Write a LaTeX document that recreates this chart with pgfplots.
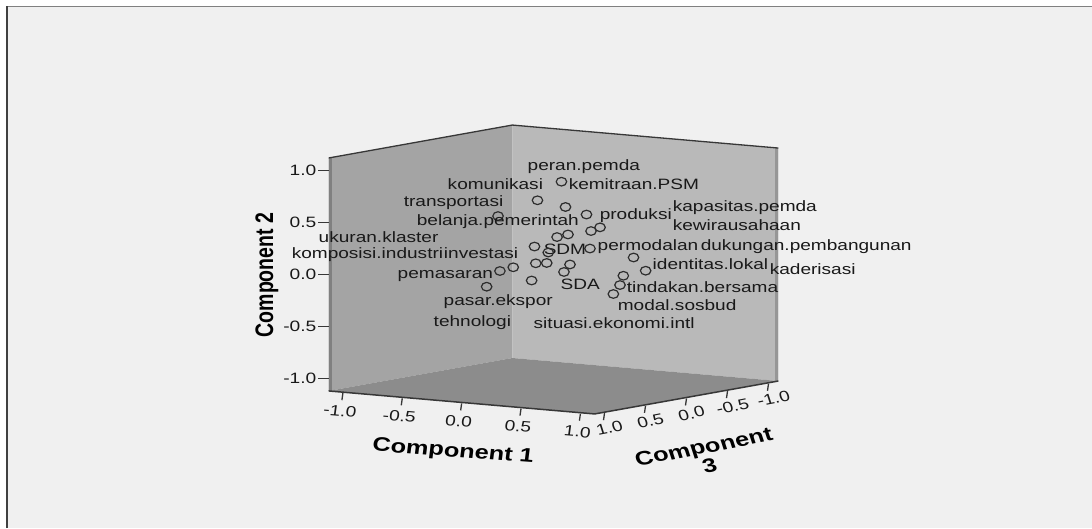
\documentclass[border=0pt]{standalone}
\usepackage{pgfplots}
\pgfplotsset{compat=1.18}
\usepackage{pgfplotstable}
\usepackage{fontspec}
\setmainfont{Liberation Sans}
\definecolor{bgc}{RGB}{240,240,240}
\definecolor{lwall}{RGB}{164,164,164}
\definecolor{rwall}{RGB}{185,185,185}
\definecolor{floorc}{RGB}{140,140,140}
\definecolor{lstrip}{RGB}{128,128,128}
\definecolor{rstrip}{RGB}{150,150,150}
\definecolor{edgec}{RGB}{55,55,55}
\definecolor{markc}{RGB}{45,45,45}
\definecolor{txtc}{RGB}{25,25,25}
\newcommand\lblfont{\fontsize{15}{18}\selectfont}
\newcommand\axfont{\fontsize{19.5}{22}\selectfont\bfseries}
\tikzset{tl/.style={inner sep=0pt, font=\lblfont, text=txtc}}

% Component 1 (c1), Component 2 (c2), Component 3 (c3); label offsets dx, dy in pt
\pgfplotstableread{
c1 c2 c3 dx dy lbl
0.067 0.851 0 -34.5 14.7 peran.pemda
-0.135 0.652 0 -90.5 14.6 komunikasi
0.101 0.611 0 2.5 21 kemitraan.PSM
0.278 0.556 0 12.5 -0.5 produksi
-0.467 0.468 0 -95 14 transportasi
0.392 0.444 0 72 20.3 kapasitas.pemda
0.316 0.401 0 81 5 kewirausahaan
0.030 0.315 0 -141 16 belanja.pemerintah
-0.160 0.205 0 8.5 -3.5 SDM
-0.044 0.159 0 -230.3 14.5 ukuran.klaster
0.307 0.232 0 7 1.8 permodalan
0.674 0.182 0 66.5 10.8 dukungan.pembangunan
-0.149 0.045 0 -244.8 8.6 komposisi.industri
-0.057 0.057 0 -103.5 8.3 investasi
-0.451 -0.059 0 -103 -3 pemasaran
-0.339 -0.012 0 -80.3 -55.4 tehnologi
0.088 -0.015 0 -4 -14 SDA
0.776 0.065 0 6.3 5 identitas.lokal
0.588 -0.002 0 145.7 5.7 kaderisasi
0.560 -0.094 0 6 -3 tindakan.bersama
0.504 -0.186 0 3.7 -12 modal.sosbud
-0.184 -0.124 0 1.3 -43.5 situasi.ekonomi.intl
-0.563 -0.221 0 -43.7 -15 pasar.ekspor
}\labeled
\pgfplotstableread{
c1 c2 c3
0.122 0.349 0
0.139 0.062 0
}\unlabeled

\begin{document}
\begin{tikzpicture}
\useasboundingbox (0,0) rectangle (1092pt,528pt);
\fill[white] (0,0) rectangle (1092pt,528pt);
\fill[bgc] (8pt,0) rectangle (1092pt,521pt);
\draw[gray, line width=1.5pt] (7pt,521.5pt) -- (1092pt,521.5pt);
\draw[black!75, line width=2pt] (7pt,0) -- (7pt,522pt);
\begin{axis}[
  at={(553.5pt,258.5pt)}, anchor=origin,
  x={(118.75pt,-10.27pt)}, y={(-82pt,-14.7pt)}, z={(0pt,104pt)},
  xmin=-1.12, xmax=1.12, ymin=-1.12, ymax=1.12, zmin=-1.12, zmax=1.12,
  hide axis, clip=false,
]
% walls
\fill[lwall] (axis cs:-1.12,1.12,-1.12) -- (axis cs:-1.12,-1.12,-1.12) -- (axis cs:-1.12,-1.12,1.12) -- (axis cs:-1.12,1.12,1.12) -- cycle;
\fill[rwall] (axis cs:-1.12,-1.12,-1.12) -- (axis cs:1.12,-1.12,-1.12) -- (axis cs:1.12,-1.12,1.12) -- (axis cs:-1.12,-1.12,1.12) -- cycle;
\fill[floorc] (axis cs:-1.12,1.12,-1.12) -- (axis cs:1.12,1.12,-1.12) -- (axis cs:1.12,-1.12,-1.12) -- (axis cs:-1.12,-1.12,-1.12) -- cycle;
\draw[lstrip, line width=3.5pt, xshift=1.75pt] (axis cs:-1.12,1.12,1.12) -- (axis cs:-1.12,1.12,-1.12);
\draw[rstrip, line width=3pt, xshift=-1.5pt] (axis cs:1.12,-1.12,1.12) -- (axis cs:1.12,-1.12,-1.12);
\draw[edgec, line width=1.3pt, line join=round] (axis cs:-1.12,1.12,1.12) -- (axis cs:-1.12,-1.12,1.12) -- (axis cs:1.12,-1.12,1.12);
\draw[edgec, line width=1.5pt, line join=round] (axis cs:-1.12,1.12,-1.12) -- (axis cs:1.12,1.12,-1.12) -- (axis cs:1.12,-1.12,-1.12);
% Component 2 ticks
\draw[edgec, line width=1.3pt] (axis cs:-1.12,1.12,1) -- ++(-11pt,0pt);
\draw[edgec, line width=1.3pt] (axis cs:-1.12,1.12,0.5) -- ++(-11pt,0pt);
\draw[edgec, line width=1.3pt] (axis cs:-1.12,1.12,0) -- ++(-11pt,0pt);
\draw[edgec, line width=1.3pt] (axis cs:-1.12,1.12,-0.5) -- ++(-11pt,0pt);
\draw[edgec, line width=1.3pt] (axis cs:-1.12,1.12,-1) -- ++(-11pt,0pt);
\node[anchor=east, xshift=-12pt, xscale=1.28, tl] at (axis cs:-1.12,1.12,1) {1.0};
\node[anchor=east, xshift=-12pt, xscale=1.28, tl] at (axis cs:-1.12,1.12,0.5) {0.5};
\node[anchor=east, xshift=-12pt, xscale=1.28, tl] at (axis cs:-1.12,1.12,0) {0.0};
\node[anchor=east, xshift=-12pt, xscale=1.28, tl] at (axis cs:-1.12,1.12,-0.5) {-0.5};
\node[anchor=east, xshift=-12pt, xscale=1.28, tl] at (axis cs:-1.12,1.12,-1) {-1.0};
% Component 1 ticks
\draw[edgec, line width=1.3pt] (axis cs:-1,1.12,-1.12) ++(0pt,-1pt) -- ++(-1pt,-7pt);
\draw[edgec, line width=1.3pt] (axis cs:-0.5,1.12,-1.12) ++(0pt,-1pt) -- ++(-1pt,-7pt);
\draw[edgec, line width=1.3pt] (axis cs:0,1.12,-1.12) ++(0pt,-1pt) -- ++(-1pt,-7pt);
\draw[edgec, line width=1.3pt] (axis cs:0.5,1.12,-1.12) ++(0pt,-1pt) -- ++(-1pt,-7pt);
\draw[edgec, line width=1.3pt] (axis cs:1,1.12,-1.12) ++(0pt,-1pt) -- ++(-1pt,-7pt);
\node[xshift=-3pt, yshift=-19pt, xscale=1.28, rotate=-6, tl] at (axis cs:-1,1.12,-1.12) {-1.0};
\node[xshift=-3pt, yshift=-19pt, xscale=1.28, rotate=-6, tl] at (axis cs:-0.5,1.12,-1.12) {-0.5};
\node[xshift=-3pt, yshift=-19pt, xscale=1.28, rotate=-6, tl] at (axis cs:0,1.12,-1.12) {0.0};
\node[xshift=-3pt, yshift=-19pt, xscale=1.28, rotate=-6, tl] at (axis cs:0.5,1.12,-1.12) {0.5};
\node[xshift=-3pt, yshift=-19pt, xscale=1.28, rotate=-6, tl] at (axis cs:1,1.12,-1.12) {1.0};
% Component 3 ticks
\draw[edgec, line width=1.3pt] (axis cs:1.12,1,-1.12) ++(0pt,-1pt) -- ++(-1pt,-7pt);
\draw[edgec, line width=1.3pt] (axis cs:1.12,0.5,-1.12) ++(0pt,-1pt) -- ++(-1pt,-7pt);
\draw[edgec, line width=1.3pt] (axis cs:1.12,0,-1.12) ++(0pt,-1pt) -- ++(-1pt,-7pt);
\draw[edgec, line width=1.3pt] (axis cs:1.12,-0.5,-1.12) ++(0pt,-1pt) -- ++(-1pt,-7pt);
\draw[edgec, line width=1.3pt] (axis cs:1.12,-1,-1.12) ++(0pt,-1pt) -- ++(-1pt,-7pt);
\node[xshift=5pt, yshift=-16pt, xscale=1.28, rotate=14, tl] at (axis cs:1.12,1,-1.12) {1.0};
\node[xshift=5pt, yshift=-16pt, xscale=1.28, rotate=14, tl] at (axis cs:1.12,0.5,-1.12) {0.5};
\node[xshift=5pt, yshift=-16pt, xscale=1.28, rotate=14, tl] at (axis cs:1.12,0,-1.12) {0.0};
\node[xshift=5pt, yshift=-16pt, xscale=1.28, rotate=14, tl] at (axis cs:1.12,-0.5,-1.12) {-0.5};
\node[xshift=5pt, yshift=-16pt, xscale=1.28, rotate=14, tl] at (axis cs:1.12,-1,-1.12) {-1.0};
% points
\addplot3[only marks, mark=o, mark size=4.3pt,
  mark options={xscale=1.22, draw=markc, line width=1.2pt}]
  table[x=c1, y=c3, z=c2] {\unlabeled};
\addplot3[only marks, mark=o, mark size=4.3pt,
  mark options={xscale=1.22, draw=markc, line width=1.2pt},
  point meta=explicit symbolic,
  visualization depends on={\thisrow{dx} \as \ldx},
  visualization depends on={\thisrow{dy} \as \ldy},
  nodes near coords,
  nodes near coords style={anchor=west, inner sep=0pt, xshift=\ldx pt, yshift=\ldy pt,
    xscale=1.27, font=\lblfont, text=txtc, text height=11pt, text depth=3pt}]
  table[x=c1, y=c3, z=c2, meta=lbl] {\labeled};
\end{axis}
\node[font=\axfont, text=black, xscale=1.3, rotate=90] at (267pt,253pt) {Component 2};
\node[font=\axfont, text=black, xscale=1.3, rotate=-5.5] at (453pt,76pt) {Component 1};
\node[font=\axfont, text=black, xscale=1.3, rotate=14, align=center, inner sep=0pt] at (706.5pt,72pt) {Component\\[-3pt]3};
\end{tikzpicture}
\end{document}
